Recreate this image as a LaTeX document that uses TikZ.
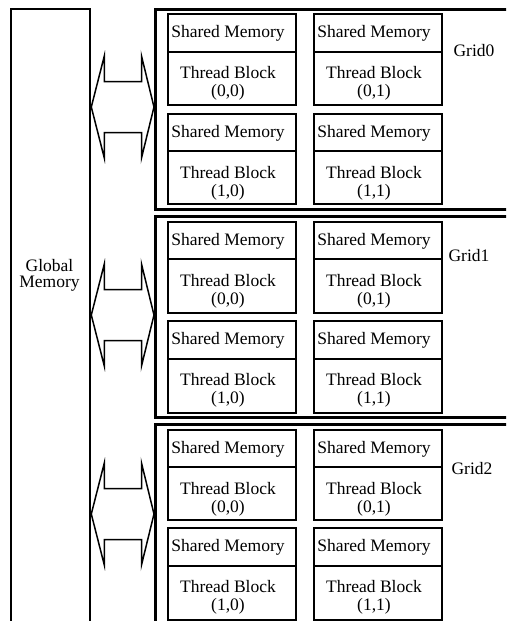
\documentclass[tikz,border=0pt]{standalone}
\usepackage{fontspec}
\setmainfont{Liberation Serif}
\newfontfamily\labelface{Liberation Serif}
\usetikzlibrary{calc}

\begin{document}
\begin{tikzpicture}[x=1pt,y=-1pt,
  gridbox/.style={draw, line width=2.7pt, inner sep=0pt, anchor=north west, minimum width=400pt},
  memcol/.style={draw, line width=2.3pt, inner sep=0pt, anchor=north west},
  blockpart/.style={draw, line width=1.9pt, inner sep=0pt, anchor=north west, minimum width=128pt},
  lbl/.style={font=\labelface\fontsize{17.5}{16.5}\selectfont, inner sep=0pt, anchor=base},
  bus/.style={draw, line width=1.5pt, line join=miter}]

  \useasboundingbox (0,0) rectangle (506,621);
  \clip (0,0) rectangle (506,621);

  % global memory column (runs off the bottom)
  \node[memcol, minimum width=79pt, minimum height=700pt] (gm) at (10,8) {};
  \node[lbl, align=center, anchor=center] (gmname) at (49.5,275.5) {Global\\Memory};

  % grids: index / top / bottom / row A top, divider, bottom / row B top, divider, bottom / bus centre / label base / label x
  \foreach \gi/\gt/\gb/\ra/\rad/\rab/\rb/\rbd/\rbb/\gc/\gl/\gx in
    {0/8/208/13/51/104/113/150/203/107/56/474,
     1/215/416/221/258/312/320/358/412/315/261/469,
     2/423/640/429/466/519/527/565/619/514/474/472}
  {
    \node[gridbox, minimum height={\gb-\gt}] (grid\gi) at (154,\gt) {};
    \node[lbl] (gname\gi) at (\gx,\gl) {Grid\gi};

    \foreach \cj/\cx in {0/167, 1/313}
    {
      % upper row of thread blocks
      \node[blockpart, minimum height={\rad-\ra}] (sm-\gi-0-\cj) at (\cx,\ra) {};
      \node[blockpart, minimum height={\rab-\rad}] (tb-\gi-0-\cj) at (\cx,\rad) {};
      \node[lbl] at (\cx+61,\ra+24.5) {Shared Memory};
      \node[lbl] at (\cx+61,\ra+65) {Thread Block};
      \node[lbl] at (\cx+61,\ra+83.5) {(0,\cj)};
      % lower row of thread blocks
      \node[blockpart, minimum height={\rbd-\rb}] (sm-\gi-1-\cj) at (\cx,\rb) {};
      \node[blockpart, minimum height={\rbb-\rbd}] (tb-\gi-1-\cj) at (\cx,\rbd) {};
      \node[lbl] at (\cx+61,\rb+24.5) {Shared Memory};
      \node[lbl] at (\cx+61,\rb+65) {Thread Block};
      \node[lbl] at (\cx+61,\rb+83.5) {(1,\cj)};
    }

    % double-headed bus between global memory and the grid
    \coordinate (aL-\gi) at (gm.east |- 0,\gc);
    \coordinate (aR-\gi) at (grid\gi.west |- 0,\gc);
    \draw[bus] (aL-\gi) -- ++(13,-51) -- ++(0,25.5)
      -- ($(aR-\gi)+(-12.5,-25.5)$) -- ++(0,-25.5) -- (aR-\gi)
      -- ++(-12.5,51) -- ++(0,-25.5)
      -- ($(aL-\gi)+(13,25.5)$) -- ++(0,25.5) -- cycle;
  }
\end{tikzpicture}
\end{document}
